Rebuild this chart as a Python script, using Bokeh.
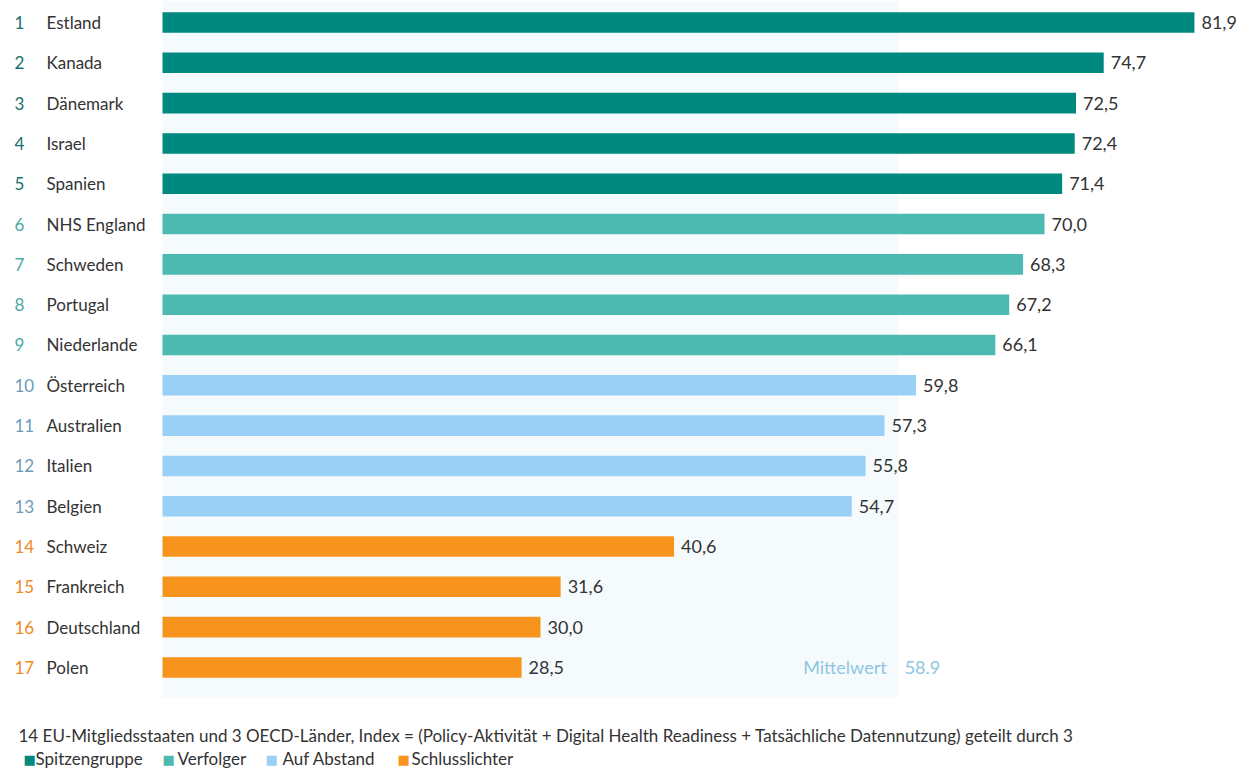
from bokeh.plotting import figure
from bokeh.models import Range1d, ColumnDataSource, Label
from bokeh.core.properties import value
from bokeh.embed import file_html
from bokeh.resources import INLINE

countries = ["Estland", "Kanada", "Dänemark", "Israel", "Spanien", "NHS England", "Schweden",
             "Portugal", "Niederlande", "Österreich", "Australien", "Italien", "Belgien",
             "Schweiz", "Frankreich", "Deutschland", "Polen"]
scores = [81.9, 74.7, 72.5, 72.4, 71.4, 70.0, 68.3, 67.2, 66.1, 59.8, 57.3, 55.8, 54.7,
          40.6, 31.6, 30.0, 28.5]
groups = ["Spitzengruppe"] * 5 + ["Verfolger"] * 4 + ["Auf Abstand"] * 4 + ["Schlusslichter"] * 4
group_names = ["Spitzengruppe", "Verfolger", "Auf Abstand", "Schlusslichter"]
mean_value = 58.9
shade_end = 58.4
caption = ("14 EU-Mitgliedsstaaten und 3 OECD-Länder, Index = (Policy-Aktivität + Digital Health "
           "Readiness + Tatsächliche Datennutzung) geteilt durch 3")

bar_colors = {"Spitzengruppe": "#00897e", "Verfolger": "#4dbab2",
              "Auf Abstand": "#9ad0f6", "Schlusslichter": "#f7941e"}
rank_colors = {"Spitzengruppe": "#17706a", "Verfolger": "#4aaaa2",
               "Auf Abstand": "#6c9cb8", "Schlusslichter": "#ef8a26"}

FONT = "Lato"
W, H = 1244, 769
PX = 12.6
X0 = 162
ROW = 40.31
Y0 = 22

ranks = list(range(1, len(countries) + 1))
src = ColumnDataSource(dict(
    y=ranks, score=scores, country=countries,
    rank=[str(r) for r in ranks],
    label=[f"{s:.1f}".replace(".", ",") for s in scores],
    bar_color=[bar_colors[g] for g in groups],
    rank_color=[rank_colors[g] for g in groups],
    zero=[0] * len(ranks),
))

p = figure(width=W, height=H, output_backend="svg", toolbar_location=None,
           x_range=Range1d(-X0 / PX, (W - X0) / PX),
           y_range=Range1d(1 + (H - Y0) / ROW, 1 - Y0 / ROW),
           min_border=0, outline_line_color=None)
p.axis.visible = False
p.grid.visible = False
p.background_fill_color = "white"
p.border_fill_color = "white"

# light background panel
p.quad(left=0, right=shade_end, top=1 - Y0 / ROW, bottom=17.745,
       fill_color="#f5fbfd", line_color=None)

p.hbar(y="y", left=0, right="score", height=0.51, fill_color="bar_color",
       line_color=None, source=src)

p.text(x="score", y="y", text="label", x_offset=7, text_baseline="middle",
       text_align="left", text_font=value(FONT), text_font_size="18px",
       text_color="#333333", source=src)

p.text(x="zero", y="y", text="rank", x_offset=-148, text_baseline="middle",
       text_align="left", text_font=value(FONT), text_font_size="17px",
       text_color="rank_color", source=src)

p.text(x="zero", y="y", text="country", x_offset=-116, text_baseline="middle",
       text_align="left", text_font=value(FONT), text_font_size="17px",
       text_color="#333333", source=src)

# mean annotation
p.add_layout(Label(x=mean_value, y=ranks[-1], text="Mittelwert", x_offset=-18,
                   text_align="right", text_baseline="middle", text_font=FONT,
                   text_font_size="18px", text_color="#8fc4e2"))
p.add_layout(Label(x=mean_value, y=ranks[-1], text=f"{mean_value:.1f}", x_offset=0,
                   text_align="left", text_baseline="middle", text_font=FONT,
                   text_font_size="18px", text_color="#8fc4e2"))

# caption
p.add_layout(Label(x=18, y=H - 735, x_units="screen", y_units="screen", text=caption,
                   text_align="left", text_baseline="middle", text_font=FONT,
                   text_font_size="17px", text_color="#333333"))

# legend
sq_x = [23, 162, 265, 397]
tx_x = [35, 177, 282, 411]
for g, sx, tx in zip(group_names, sq_x, tx_x):
    p.add_layout(Label(x=sx, y=H - 759, x_units="screen", y_units="screen", text="■",
                       text_align="left", text_baseline="middle", text_font="DejaVu Sans",
                       text_font_size="13px", text_color=bar_colors[g]))
    p.add_layout(Label(x=tx, y=H - 758, x_units="screen", y_units="screen", text=g,
                       text_align="left", text_baseline="middle", text_font=FONT,
                       text_font_size="17px", text_color="#333333"))

open("out.html", "w").write(file_html(p, INLINE))
